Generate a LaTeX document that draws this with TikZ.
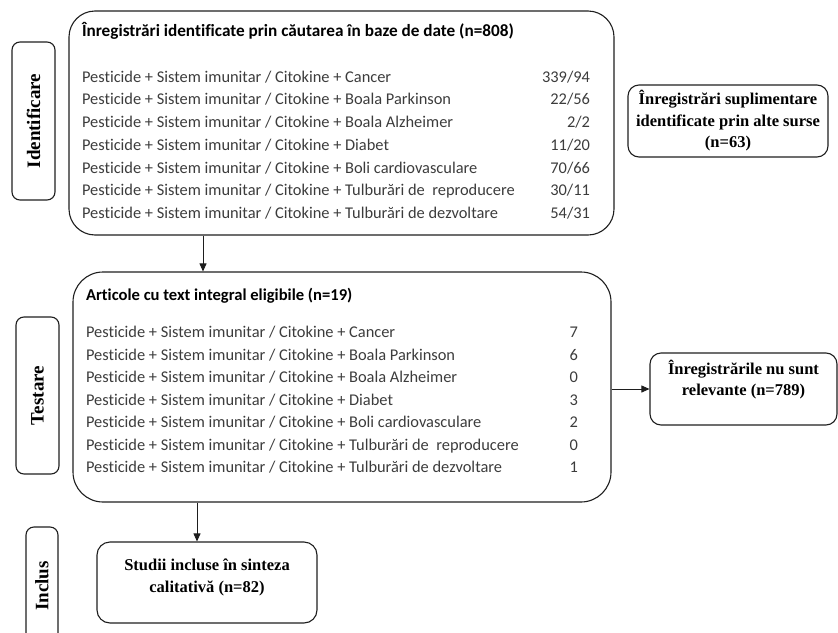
\documentclass[tikz,border=0pt]{standalone}
\usepackage{fontspec}
\usepackage{array}
\setmainfont{Carlito}[Ligatures=NoCommon]
\newfontfamily\tnr{Liberation Serif}
\usetikzlibrary{arrows.meta}

\definecolor{bodygray}{HTML}{3C3C3C}
\definecolor{linegray}{HTML}{1E1E1E}

\begin{document}
\begin{tikzpicture}[
  x=1pt, y=-1pt,
  >={Triangle[length=8pt,width=7pt]},
  phase/.style={draw=linegray, line width=1.1pt, rounded corners=8pt, rotate=90, minimum height=43pt, inner sep=0pt, font=\tnr\bfseries\fontsize{19}{22}\selectfont},
  listbox/.style={draw=linegray, line width=1.1pt, inner xsep=13pt, inner ysep=0pt, text=bodygray, font=\fontsize{16.4}{22.75}\selectfont},
  notebox/.style={draw=linegray, line width=1.1pt, rounded corners=11pt, align=center, inner sep=0pt, font=\tnr\bfseries\fontsize{16.5}{21.5}\selectfont}
]
\useasboundingbox (0,0) rectangle (838,632);

% Phases
\node[phase, minimum width=158pt] (ident) at (33.5,121) {Identificare};
\node[phase, minimum width=157pt] (test) at (37.5,395.5) {Testare};
\node[phase, minimum width=118pt, minimum height=32pt] (incl) at (42,586) {Inclus};

% Boxes
\node[listbox, rounded corners=26pt, minimum height=224pt] (records) at (341.5,123) {%
\begin{tabular}{@{}p{448pt}@{}>{\raggedleft\arraybackslash}p{60pt}@{\hspace{11pt}}}
\multicolumn{2}{@{}l}{\color{black}\fontsize{17.2}{22.75}\selectfont\bfseries Înregistrări identificate prin căutarea în baze de date (n=808)}\\[22.75pt]
Pesticide + Sistem imunitar / Citokine + Cancer & 339/94\\
Pesticide + Sistem imunitar / Citokine + Boala Parkinson & 22/56\\
Pesticide + Sistem imunitar / Citokine + Boala Alzheimer & 2/2\\
Pesticide + Sistem imunitar / Citokine + Diabet & 11/20\\
Pesticide + Sistem imunitar / Citokine + Boli cardiovasculare & 70/66\\
Pesticide + Sistem imunitar / Citokine + Tulburări de\ \ reproducere & 30/11\\
Pesticide + Sistem imunitar / Citokine + Tulburări de dezvoltare & 54/31
\end{tabular}};

\node[listbox, rounded corners=30pt, minimum height=230pt, font=\fontsize{16.4}{22.5}\selectfont] (articles) at (342,387) {%
\begin{tabular}{@{}p{462pt}@{}>{\raggedleft\arraybackslash}p{30pt}@{\hspace{20pt}}}
\multicolumn{2}{@{}l}{\color{black}\fontsize{16.6}{22.5}\selectfont\bfseries Articole cu text integral eligibile (n=19)}\\[14.5pt]
Pesticide + Sistem imunitar / Citokine + Cancer & 7\\
Pesticide + Sistem imunitar / Citokine + Boala Parkinson & 6\\
Pesticide + Sistem imunitar / Citokine + Boala Alzheimer & 0\\
Pesticide + Sistem imunitar / Citokine + Diabet & 3\\
Pesticide + Sistem imunitar / Citokine + Boli cardiovasculare & 2\\
Pesticide + Sistem imunitar / Citokine + Tulburări de\ \ reproducere & 0\\
Pesticide + Sistem imunitar / Citokine + Tulburări de dezvoltare & 1\\[10pt]
\end{tabular}};

\node[notebox, minimum width=200pt, minimum height=72pt] (extra) at (728,121) {Înregistrări suplimentare\\identificate prin alte surse\\(n=63)};
\node[notebox, minimum width=187pt, minimum height=72pt, text depth=22pt] (excluded) at (743.5,389) {Înregistrările nu sunt\\relevante (n=789)};
\node[notebox, rounded corners=13pt, minimum width=220pt, minimum height=81pt, text depth=14pt] (included) at (207,582.5) {Studii incluse în sinteza\\calitativă (n=82)};

% Arrows
\coordinate (c1) at (203,0);
\coordinate (c2) at (197,0);
\draw[->, line width=0.8pt, linegray] (records.south -| c1) -- (articles.north -| c1);
\draw[->, line width=0.8pt, linegray] (articles.east |- excluded.west) -- (excluded.west);
\draw[->, line width=0.8pt, linegray] (articles.south -| c2) -- (included.north -| c2);

\end{tikzpicture}
\end{document}
